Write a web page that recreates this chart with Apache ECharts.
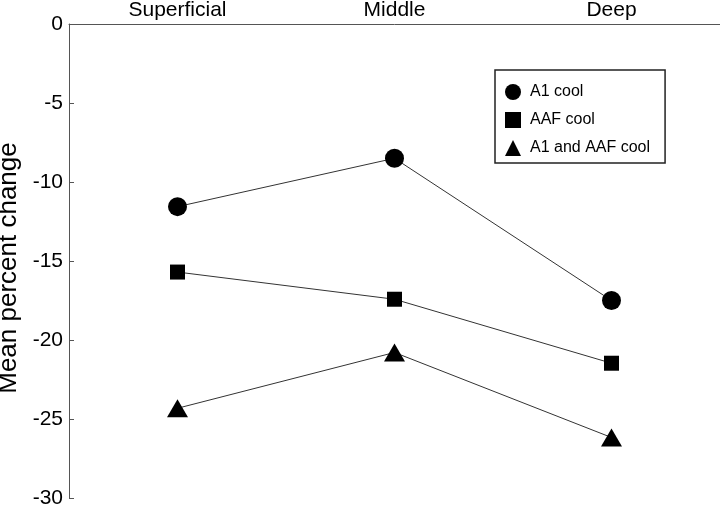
<!DOCTYPE html>
<html><head><meta charset="utf-8">
<script src="https://cdn.jsdelivr.net/npm/echarts@6/dist/echarts.min.js"></script>
<style>html,body{margin:0;padding:0;background:#fff}#c{width:720px;height:509px}</style>
</head><body><div id="c"></div>
<script>
const categories = ['Superficial', 'Middle', 'Deep'];
const a1Cool = [-11.56, -8.5, -17.5];
const aafCool = [-15.7, -17.42, -21.47];
const bothCool = [-24.32, -20.79, -26.17];
const seriesNames = ['A1 cool', 'AAF cool', 'A1 and AAF cool'];

const font = 'Arial, "Liberation Sans", Helvetica, sans-serif';
const chart = echarts.init(document.getElementById('c'), null, {renderer: 'canvas'});
const mk = (name, data, symbol, size) => ({
  name, type: 'line', data, symbol, symbolSize: size,
  itemStyle: {color: '#000'},
  lineStyle: {color: '#333', width: 1},
  emphasis: {disabled: true},
  animation: false
});
chart.setOption({
  animation: false,
  grid: {left: 69, right: 0, top: 24, bottom: 11, containLabel: false, outerBoundsMode: 'none'},
  xAxis: {
    type: 'category', data: categories, position: 'top', boundaryGap: true,
    axisLine: {lineStyle: {color: '#555', width: 1}},
    axisTick: {inside: true, alignWithLabel: true, length: 5, lineStyle: {color: '#555'}},
    axisLabel: {color: '#000', fontSize: 21, fontFamily: font, margin: 3},
    splitLine: {show: false}
  },
  yAxis: {
    type: 'value', min: -30, max: 0, interval: 5,
    name: 'Mean percent change', nameLocation: 'middle', nameGap: 44,
    nameTextStyle: {color: '#000', fontSize: 26, fontFamily: font, padding: [0, 14, 0, 0]},
    axisLine: {show: true, lineStyle: {color: '#555', width: 1}},
    axisTick: {show: true, inside: true, length: 5, lineStyle: {color: '#555'}},
    axisLabel: {color: '#000', fontSize: 21, fontFamily: font, margin: 6},
    splitLine: {show: false}
  },
  legend: {
    orient: 'vertical', left: 495, top: 70,
    padding: [14, 15, 7, 10],
    borderColor: '#222', borderWidth: 1.5, borderRadius: 0,
    itemWidth: 16, itemHeight: 16, itemGap: 12,
    selectedMode: false,
    textStyle: {color: '#000', fontSize: 16, fontFamily: font, padding: [0, 0, 0, 4]},
    data: [
      {name: seriesNames[0], icon: 'circle'},
      {name: seriesNames[1], icon: 'rect'},
      {name: seriesNames[2], icon: 'triangle'}
    ]
  },
  series: [
    mk(seriesNames[0], a1Cool, 'circle', 19),
    mk(seriesNames[1], aafCool, 'rect', 15),
    mk(seriesNames[2], bothCool, 'triangle', [21, 18])
  ]
});
</script></body></html>
